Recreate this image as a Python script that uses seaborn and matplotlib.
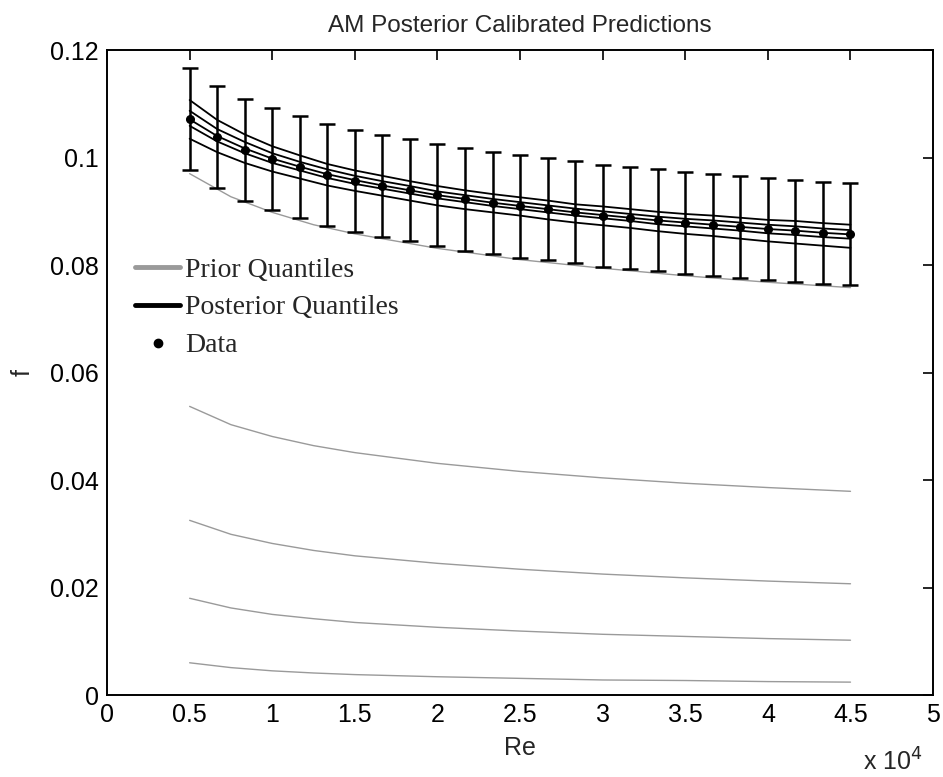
import matplotlib
matplotlib.use("Agg")
import matplotlib.pyplot as plt
from matplotlib.lines import Line2D
from matplotlib.ticker import FuncFormatter, MultipleLocator
import seaborn as sns
import pandas as pd

# ---------------- data ----------------
re_data = [5000, 6667, 8333, 10000, 11667, 13333, 15000, 16667, 18333, 20000,
           21667, 23333, 25000, 26667, 28333, 30000, 31667, 33333, 35000, 36667,
           38333, 40000, 41667, 43333, 45000]
f_data = [0.1071, 0.1039, 0.1014, 0.0997, 0.0983, 0.0968, 0.0957, 0.0947, 0.0939, 0.0931,
          0.0922, 0.0916, 0.0909, 0.0904, 0.0898, 0.0892, 0.0887, 0.0883, 0.0878, 0.0875,
          0.0870, 0.0867, 0.0863, 0.0859, 0.0857]
f_err = 0.0095

post_q975 = [0.1107, 0.1070, 0.1043, 0.1021, 0.1004, 0.0988, 0.0976, 0.0966, 0.0956, 0.0947,
             0.0939, 0.0932, 0.0926, 0.0920, 0.0913, 0.0909, 0.0904, 0.0899, 0.0895, 0.0892,
             0.0888, 0.0884, 0.0882, 0.0878, 0.0875]
post_q75 = [0.1087, 0.1053, 0.1029, 0.1008, 0.0992, 0.0978, 0.0966, 0.0956, 0.0947, 0.0937,
            0.0930, 0.0923, 0.0917, 0.0911, 0.0905, 0.0900, 0.0895, 0.0890, 0.0886, 0.0883,
            0.0879, 0.0875, 0.0872, 0.0868, 0.0865]
post_q50 = [0.1071, 0.1040, 0.1017, 0.0998, 0.0983, 0.0969, 0.0958, 0.0948, 0.0939, 0.0930,
            0.0923, 0.0916, 0.0910, 0.0904, 0.0898, 0.0893, 0.0888, 0.0883, 0.0879, 0.0875,
            0.0871, 0.0867, 0.0864, 0.0860, 0.0857]
post_q25 = [0.1059, 0.1030, 0.1008, 0.0990, 0.0976, 0.0962, 0.0951, 0.0942, 0.0933, 0.0924,
            0.0917, 0.0910, 0.0904, 0.0898, 0.0892, 0.0887, 0.0882, 0.0876, 0.0872, 0.0868,
            0.0864, 0.0859, 0.0856, 0.0852, 0.0849]
post_q025 = [0.1035, 0.1010, 0.0990, 0.0974, 0.0961, 0.0948, 0.0938, 0.0929, 0.0920, 0.0911,
             0.0904, 0.0898, 0.0892, 0.0885, 0.0879, 0.0874, 0.0869, 0.0863, 0.0858, 0.0854,
             0.0849, 0.0844, 0.0840, 0.0836, 0.0832]

re_prior = [5000, 7500, 10000, 12500, 15000, 20000, 25000, 30000, 35000, 40000, 45000]
prior_q975 = [0.0970, 0.0927, 0.0898, 0.0875, 0.0858, 0.0831, 0.0810, 0.0794, 0.0780, 0.0768, 0.0758]
prior_q75 = [0.0537, 0.0503, 0.0481, 0.0464, 0.0451, 0.0431, 0.0416, 0.0404, 0.0394, 0.0386, 0.0379]
prior_q50 = [0.0325, 0.0299, 0.0282, 0.0269, 0.0259, 0.0245, 0.0234, 0.0225, 0.0218, 0.0212, 0.0207]
prior_q25 = [0.0180, 0.0162, 0.0150, 0.0142, 0.0135, 0.0126, 0.0119, 0.0113, 0.0109, 0.0105, 0.0102]
prior_q025 = [0.0060, 0.0051, 0.0045, 0.0041, 0.0038, 0.0034, 0.0031, 0.0028, 0.0027, 0.0025, 0.0024]

title = "AM Posterior Calibrated Predictions"
legend_labels = ["Prior Quantiles", "Posterior Quantiles", "Data"]

# ---------------- style ----------------
sns.set_style("white")
plt.rcParams["font.family"] = ["Liberation Sans", "DejaVu Sans"]
plt.rcParams["font.size"] = 18

fig = plt.figure(figsize=(9.43, 7.77), dpi=100)
ax = fig.add_axes([0.1135, 0.1055, 0.876, 0.8301])

prior_gray = "#9a9a9a"
prior_df = pd.DataFrame({"Re": re_prior * 5,
                         "f": prior_q975 + prior_q75 + prior_q50 + prior_q25 + prior_q025,
                         "q": sum([[q] * len(re_prior) for q in ["97.5", "75", "50", "25", "2.5"]], [])})
sns.lineplot(data=prior_df, x="Re", y="f", units="q", estimator=None, color=prior_gray,
             lw=1.0, ax=ax, legend=False)

post_df = pd.DataFrame({"Re": re_data * 5,
                        "f": post_q975 + post_q75 + post_q50 + post_q25 + post_q025,
                        "q": sum([[q] * len(re_data) for q in ["97.5", "75", "50", "25", "2.5"]], [])})
sns.lineplot(data=post_df, x="Re", y="f", units="q", estimator=None, color="black",
             lw=1.3, ax=ax, legend=False)

ax.errorbar(re_data, f_data, yerr=f_err, fmt="o", color="black", ms=5.5,
            elinewidth=1.8, capsize=5.5, capthick=1.8, zorder=5)

ax.set_xlim(0, 50000)
ax.set_ylim(0, 0.12)
ax.xaxis.set_major_locator(MultipleLocator(5000))
ax.yaxis.set_major_locator(MultipleLocator(0.02))
ax.xaxis.set_major_formatter(FuncFormatter(lambda v, p: f"{v / 1e4:g}"))
ax.yaxis.set_major_formatter(FuncFormatter(lambda v, p: f"{round(v, 4):g}"))
ax.tick_params(direction="in", top=True, right=True, length=7, width=1.2,
               pad=6, labelsize=18, colors="black")
for s in ax.spines.values():
    s.set_linewidth(1.4)
    s.set_color("black")

ax.set_xlabel("Re", fontsize=18, labelpad=6)
ax.set_ylabel("f", fontsize=18, labelpad=11)
ax.set_title(title, fontsize=17.5, pad=13)
fig.text(0.978, 0.002, r"x 10$^4$", ha="right", va="bottom", fontsize=18)

handles = [Line2D([], [], color=prior_gray, lw=3.5),
           Line2D([], [], color="black", lw=3.5),
           Line2D([], [], color="black", marker="o", ls="none", ms=6)]
ax.legend(handles, legend_labels, loc="upper left", bbox_to_anchor=(0.034, 0.679),
          frameon=False, borderpad=0, borderaxespad=0, handlelength=1.62,
          handletextpad=0.18, labelspacing=0.45,
          prop={"family": "Liberation Serif", "size": 20})

fig.savefig("out.png", dpi=100)
